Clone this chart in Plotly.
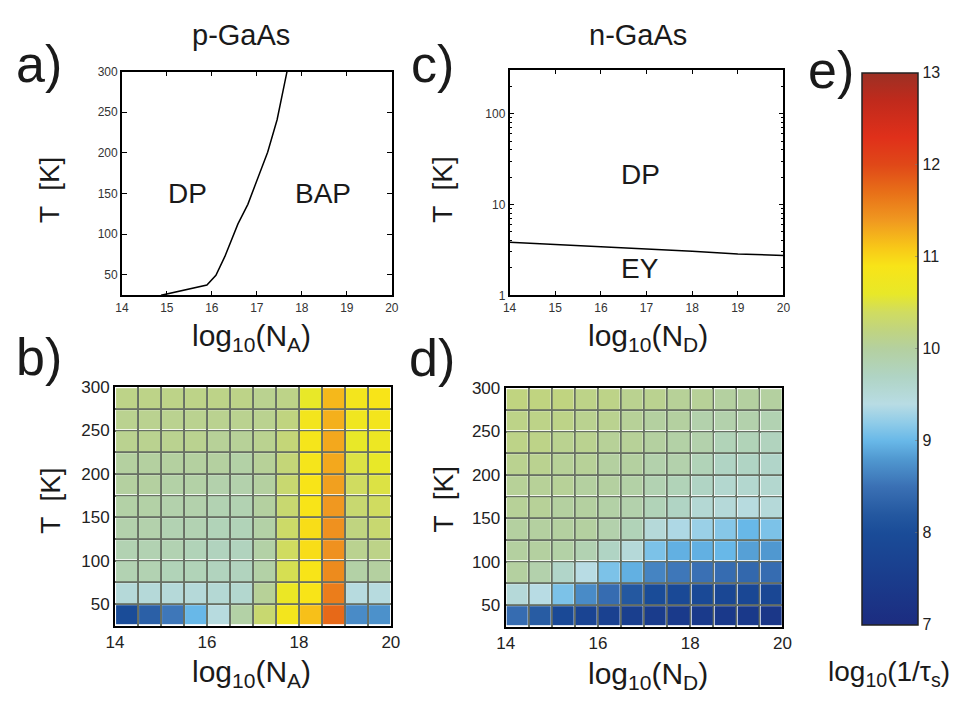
import plotly.graph_objects as go

# ---------------- data ----------------
# panel a: DP / BAP boundary (p-GaAs)
a_logNA = [14.87, 15.89, 16.09, 16.29, 16.58, 16.80, 17.02, 17.24, 17.45, 17.67]
a_T = [25, 37.6, 49.6, 72.8, 112.8, 136.8, 168.8, 200.8, 240.8, 300]

# panel c: DP / EY boundary (n-GaAs)
c_logND = [14, 15, 16, 17, 18, 19, 20]
c_T = [3.85, 3.65, 3.45, 3.25, 3.05, 2.85, 2.75]

# heatmap grids (cell centres)
grid_logN = [14.25, 14.75, 15.25, 15.75, 16.25, 16.75, 17.25, 17.75, 18.25, 18.75, 19.25, 19.75]
grid_T = [37.5, 62.5, 87.5, 112.5, 137.5, 162.5, 187.5, 212.5, 237.5, 262.5, 287.5]

# panel b: log10(1/tau_s), p-GaAs, rows = T ascending
b_rate = [
    [8.0, 8.3, 8.55, 9.0, 9.45, 9.95, 10.3, 10.8, 11.15, 11.75, 8.7, 8.75],
    [9.5, 9.5, 9.5, 9.5, 9.55, 9.6, 10.05, 10.65, 10.9, 11.6, 9.45, 9.45],
    [9.85, 9.85, 9.8, 9.8, 9.75, 9.75, 9.95, 10.45, 10.9, 11.5, 9.95, 10.0],
    [9.85, 9.85, 9.85, 9.8, 9.75, 9.75, 9.95, 10.4, 10.95, 11.45, 10.1, 10.15],
    [9.9, 9.9, 9.85, 9.85, 9.8, 9.8, 9.95, 10.35, 10.95, 11.45, 10.2, 10.3],
    [9.95, 9.95, 9.9, 9.9, 9.85, 9.85, 10.0, 10.3, 10.9, 11.4, 10.3, 10.4],
    [10.0, 10.0, 9.95, 9.95, 9.9, 9.9, 10.0, 10.3, 10.9, 11.35, 10.4, 10.5],
    [10.0, 10.0, 10.0, 10.0, 10.0, 9.95, 10.05, 10.25, 10.85, 11.3, 10.5, 10.6],
    [10.1, 10.1, 10.1, 10.1, 10.05, 10.05, 10.1, 10.25, 10.85, 11.3, 10.6, 10.7],
    [10.1, 10.1, 10.1, 10.1, 10.1, 10.1, 10.1, 10.2, 10.8, 11.25, 10.75, 10.8],
    [10.15, 10.15, 10.15, 10.15, 10.15, 10.15, 10.1, 10.15, 10.6, 11.2, 10.8, 10.9],
]

# panel d: log10(1/tau_s), n-GaAs, rows = T ascending
d_rate = [
    [8.45, 8.25, 7.9, 7.75, 7.65, 7.6, 7.5, 7.45, 7.45, 7.4, 7.4, 7.35],
    [9.5, 9.4, 9.1, 8.7, 8.45, 8.2, 8.0, 7.9, 7.9, 7.85, 7.85, 7.85],
    [10.0, 9.9, 9.65, 9.4, 9.1, 8.95, 8.65, 8.55, 8.5, 8.45, 8.4, 8.45],
    [10.0, 10.0, 9.95, 9.85, 9.7, 9.5, 9.1, 8.95, 8.95, 9.0, 8.85, 8.8],
    [10.0, 10.0, 10.0, 10.0, 9.9, 9.8, 9.5, 9.35, 9.25, 9.15, 9.0, 9.1],
    [10.05, 10.05, 10.0, 10.0, 9.95, 9.9, 9.8, 9.7, 9.55, 9.5, 9.45, 9.5],
    [10.05, 10.05, 10.05, 10.0, 10.0, 9.95, 9.85, 9.8, 9.7, 9.6, 9.6, 9.6],
    [10.1, 10.1, 10.05, 10.05, 10.0, 10.0, 9.9, 9.9, 9.8, 9.7, 9.7, 9.65],
    [10.15, 10.15, 10.1, 10.1, 10.05, 10.05, 10.0, 9.95, 9.9, 9.8, 9.8, 9.75],
    [10.15, 10.15, 10.15, 10.1, 10.1, 10.05, 10.0, 10.0, 9.9, 9.9, 9.9, 9.85],
    [10.2, 10.2, 10.2, 10.15, 10.15, 10.1, 10.1, 10.05, 10.05, 10.0, 10.0, 10.0],
]

cbar_ticks = [7, 8, 9, 10, 11, 12, 13]
a_xticks = [14, 15, 16, 17, 18, 19, 20]
a_yticks = [50, 100, 150, 200, 250, 300]
c_yticks = [1, 10, 100]
bd_xticks = [14, 16, 18, 20]

# colour map (value -> colour)
cmap_vals = [7.0, 7.5, 8.0, 8.2, 8.5, 8.8, 9.0, 9.2, 9.4, 9.7, 10.0, 10.2, 10.4,
             10.6, 10.9, 11.1, 11.4, 11.7, 12.0, 12.3, 12.7, 13.0]
cmap_cols = ["#1c2c80", "#1a3c8c", "#1a4c98", "#2458a0", "#3a70b4", "#5098d0",
             "#68b8e8", "#90cce8", "#b8dce4", "#b0d4c4", "#b4d0a0", "#c0d480",
             "#d0dc60", "#e8e828", "#f8e418", "#f8c818", "#f09820", "#e87018",
             "#e04818", "#e0301a", "#c02a1c", "#9c3024"]
colorscale = [[(v - 7.0) / 6.0, c] for v, c in zip(cmap_vals, cmap_cols)]

FONT = "Liberation Sans, Arial, Helvetica, sans-serif"
W, H = 977, 702


def px(x):
    return x / W


def py(y):
    return 1 - y / H


fig = go.Figure()

fig.add_trace(go.Scatter(x=a_logNA, y=a_T, mode="lines", line=dict(color="black", width=1.5),
                         xaxis="x", yaxis="y", showlegend=False, cliponaxis=True))
fig.add_trace(go.Scatter(x=c_logND, y=c_T, mode="lines", line=dict(color="black", width=1.5),
                         xaxis="x2", yaxis="y2", showlegend=False))
fig.add_trace(go.Heatmap(x=grid_logN, y=grid_T, z=b_rate, coloraxis="coloraxis",
                         xgap=2, ygap=2, xaxis="x3", yaxis="y3"))
fig.add_trace(go.Heatmap(x=grid_logN, y=grid_T, z=d_rate, coloraxis="coloraxis",
                         xgap=2, ygap=2, xaxis="x4", yaxis="y4"))

small = dict(family=FONT, size=12, color="#333")
med = dict(family=FONT, size=17, color="#222")

line_ax = dict(showline=True, linecolor="black", linewidth=1.6, mirror="ticks",
               ticks="inside", ticklen=5, tickcolor="black", zeroline=False,
               showgrid=False, tickfont=small)

GRID = "#687064"
grid_minor = dict(dtick=0.5, tick0=14, showgrid=True, gridcolor=GRID, gridwidth=2, ticks="")
grid_minor_y = dict(dtick=25, tick0=25, showgrid=True, gridcolor=GRID, gridwidth=2, ticks="")
heat_ax = dict(showline=True, linecolor="black", linewidth=2, mirror=True, ticks="",
               zeroline=False, tickfont=med, showgrid=True, gridcolor=GRID, gridwidth=2)

fig.update_layout(
    width=W, height=H,
    margin=dict(l=0, r=0, t=0, b=0),
    paper_bgcolor="white", plot_bgcolor="white",
    font=dict(family=FONT, color="#222"),
    showlegend=False,
    xaxis=dict(domain=[px(115), px(390)], anchor="y", range=[14, 20], tickvals=a_xticks, **line_ax),
    yaxis=dict(domain=[py(293), py(64)], anchor="x", range=[25, 300], tickvals=a_yticks, **line_ax),
    xaxis2=dict(domain=[px(510), px(789)], anchor="y2", range=[14, 20], tickvals=a_xticks, **line_ax),
    yaxis2=dict(domain=[py(293), py(62)], anchor="x2", type="log", range=[0, 2.486],
                tickvals=c_yticks,
                minor=dict(ticks="inside", ticklen=3, tickcolor="black",
                           tickvals=[m * d for d in (1, 10, 100) for m in range(2, 10)]),
                **line_ax),
    xaxis3=dict(domain=[px(108), px(389)], anchor="y3", range=[14, 20], tickvals=bd_xticks,
                minor=grid_minor, **heat_ax),
    yaxis3=dict(domain=[py(631), py(387)], anchor="x3", range=[25, 300], tickvals=a_yticks,
                minor=grid_minor_y, **heat_ax),
    xaxis4=dict(domain=[px(506), px(788)], anchor="y4", range=[14, 20], tickvals=bd_xticks,
                minor=grid_minor, **heat_ax),
    yaxis4=dict(domain=[py(632), py(388)], anchor="x4", range=[25, 300], tickvals=a_yticks,
                minor=grid_minor_y, **heat_ax),
    coloraxis=dict(
        cmin=7, cmax=13, colorscale=colorscale,
        colorbar=dict(
            x=px(869), xanchor="left", xpad=0, ypad=0,
            y=py(347.5), yanchor="middle", len=565 / H, lenmode="fraction",
            thickness=56, thicknessmode="pixels",
            outlinecolor="#222", outlinewidth=1.5,
            tickvals=cbar_ticks, ticks="inside", ticklen=3, tickcolor="rgba(120,120,120,0.6)",
            tickfont=dict(family=FONT, size=16, color="#222"),
        ),
    ),
)

anns = []


def ann(text, x, y, size, **kw):
    d = dict(text=text, x=px(x), y=py(y), xref="paper", yref="paper", showarrow=False,
             font=dict(family=FONT, size=size, color="#1a1a1a"), xanchor="center", yanchor="middle")
    d.update(kw)
    anns.append(d)


# titles
ann("p-GaAs", 236, 27, 29)
ann("n-GaAs", 641, 27, 29)
# panel letters
ann("a)", 31, 56, 52)
ann("b)", 31, 356, 52)
ann("c)", 431, 56, 52)
ann("d)", 431, 357, 52)
ann("e)", 837, 62, 52)
# axis titles
for xx, yy in [(42, 185), (42, 503), (442, 185), (443, 502)]:
    ann("T  [K]", xx, yy, 28, textangle=-90)
ann("log<sub>10</sub>(N<sub>A</sub>)", 247, 336, 30)
ann("log<sub>10</sub>(N<sub>A</sub>)", 247, 680, 30)
ann("log<sub>10</sub>(N<sub>D</sub>)", 651, 336, 30)
ann("log<sub>10</sub>(N<sub>D</sub>)", 651, 682, 30)
ann("log<sub>10</sub>(1/τ<sub>s</sub>)", 897, 680, 28)

# region labels inside plots (data coords)
anns.append(dict(text="DP", x=15.45, y=150, xref="x", yref="y", showarrow=False,
                 font=dict(family=FONT, size=28, color="#1a1a1a")))
anns.append(dict(text="BAP", x=18.47, y=150, xref="x", yref="y", showarrow=False,
                 font=dict(family=FONT, size=28, color="#1a1a1a")))
anns.append(dict(text="DP", x=16.86, y=1.33, xref="x2", yref="y2", showarrow=False,
                 font=dict(family=FONT, size=28, color="#1a1a1a")))
anns.append(dict(text="EY", x=16.86, y=0.29, xref="x2", yref="y2", showarrow=False,
                 font=dict(family=FONT, size=28, color="#1a1a1a")))

fig.update_layout(annotations=anns)

fig.write_html("out.html")
